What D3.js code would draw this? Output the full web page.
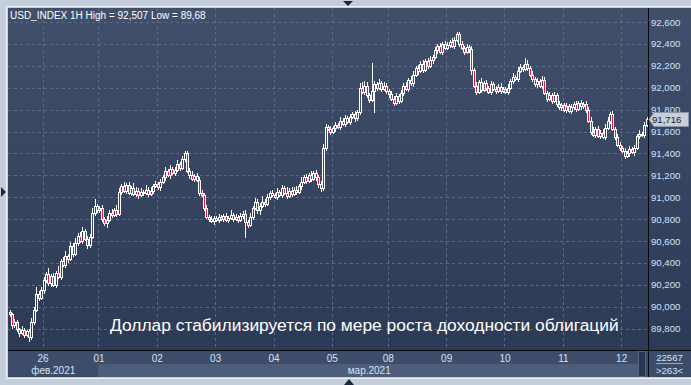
<!DOCTYPE html>
<html><head><meta charset="utf-8">
<script src="https://cdn.jsdelivr.net/npm/d3@7"></script>
<style>html,body{margin:0;padding:0;background:#c3cddb;overflow:hidden}svg{display:block}</style>
</head><body><svg id="c" width="691" height="385"></svg>
<script>
// ---- data ----
const titleText = "USD_INDEX 1H High = 92,507 Low = 89,68";
const caption = "Доллар стабилизируется по мере роста доходности облигаций";
const dayLabels = ["26","01","02","03","04","05","08","09","10","11","12"];
const dayCandles = [14,23,24,24,24,24,23,24,24,24,24,11]; // first entry = 25 Feb (partial)
const monthLabels = ["фев.2021","мар.2021"];
const yTicks = [89.8,90.0,90.2,90.4,90.6,90.8,91.0,91.2,91.4,91.6,91.8,92.0,92.2,92.4,92.6];
const lastPrice = 91.716;
const volumeText = "22567";
const barsText = ">263<";
const firstOpen = 89.95;
const closes = [
 89.93,89.83,89.86,89.80,89.76,89.79,89.74,89.78,89.72,89.86,89.97,90.12,90.08,90.15,
 90.24,90.30,90.22,90.28,90.20,90.31,90.27,90.42,90.38,90.46,90.44,90.55,90.48,90.58,90.65,90.60,90.69,90.62,90.56,90.64,90.86,90.92,90.88,
 90.90,90.80,90.76,90.79,90.86,90.84,90.88,90.85,91.05,91.10,91.06,91.11,91.04,91.08,91.03,91.06,91.02,91.05,91.04,91.07,91.03,91.06,91.10,91.12,
 91.09,91.14,91.18,91.24,91.20,91.26,91.22,91.25,91.30,91.27,91.35,91.40,91.24,91.20,91.17,91.19,91.16,91.04,91.02,90.90,90.82,90.80,90.78,90.81,
 90.79,90.82,90.80,90.83,90.79,90.81,90.84,90.80,90.82,90.79,90.83,90.85,90.77,90.75,90.82,90.90,90.96,90.88,90.92,90.96,90.94,91.00,91.04,91.02,
 91.00,91.05,91.02,91.08,91.04,91.01,91.06,91.03,91.07,91.05,91.10,91.14,91.18,91.15,91.20,91.17,91.22,91.18,91.12,91.08,91.45,91.64,91.62,91.60,
 91.63,91.66,91.64,91.70,91.67,91.72,91.69,91.73,91.76,91.72,91.78,92.00,91.96,92.02,91.93,91.89,91.97,92.03,92.00,92.04,91.99,92.02,91.97,
 91.94,91.90,91.86,91.92,91.88,91.95,92.02,91.99,92.07,92.04,92.12,92.18,92.15,92.22,92.16,92.24,92.20,92.25,92.28,92.34,92.38,92.33,92.40,92.36,
 92.39,92.42,92.38,92.44,92.49,92.40,92.36,92.33,92.37,92.35,92.16,92.02,91.96,92.05,91.98,92.04,92.00,91.96,92.03,91.99,91.97,92.01,91.97,91.99,
 91.96,92.00,92.06,92.10,92.08,92.15,92.19,92.17,92.22,92.18,92.12,92.08,92.03,92.06,92.02,92.07,91.95,91.90,91.93,91.88,91.93,91.85,91.82,91.84,
 91.80,91.83,91.79,91.82,91.85,91.81,91.86,91.83,91.85,91.80,91.70,91.60,91.57,91.62,91.56,91.59,91.55,91.63,91.70,91.76,91.62,91.55,91.48,91.45,
 91.42,91.38,91.40,91.44,91.41,91.45,91.56,91.58,91.57,91.66,91.716
];
// wick lengths beyond the body, in hundredths of a point
const wickUp = [
 2,1,3,2,1,3,2,1,2,4,3,6,2,3,
 3,2,5,2,3,2,6,2,3,5,2,4,3,5,2,3,4,2,3,2,4,6,2,
 2,3,2,4,2,3,2,5,3,2,4,2,3,2,5,3,2,3,2,4,2,3,2,3,
 2,3,2,4,2,3,2,3,4,2,3,2,2,3,4,2,3,2,3,2,3,2,3,2,
 2,3,2,2,3,2,4,2,3,2,3,2,3,2,4,2,3,2,3,5,2,3,2,3,
 2,3,2,3,2,5,2,3,2,3,2,4,2,3,2,4,2,3,2,3,4,3,2,3,
 2,3,2,3,2,3,2,3,2,3,2,4,5,4,3,2,26,3,2,4,2,3,2,
 2,3,2,3,2,3,2,3,2,4,3,2,3,2,3,2,3,4,2,3,2,3,2,3,
 3,2,3,2,1.7,2,3,2,3,2,3,2,3,2,4,2,3,2,3,2,3,2,3,2,
 2,3,2,3,2,4,3,2,5,3,2,3,2,3,2,4,3,2,3,2,3,2,3,2,
 2,3,2,3,2,3,2,3,2,3,2,3,4,2,3,2,3,4,3,2,3,2,3,2,
 2,3,2,3,2,3,2,3,2,3,2
];
const wickDn = [
 2,3,2,3,4,2,3,2,4,2,3,2,3,2,
 3,2,3,4,2,3,2,3,2,3,4,2,3,2,3,2,3,2,3,2,2,3,2,
 2,3,2,4,2,3,2,3,2,3,2,3,2,3,2,3,4,2,3,2,3,2,3,2,
 2,3,2,3,2,3,2,3,2,3,2,3,2,3,2,3,2,3,2,3,2,3,2,3,
 2,3,2,3,2,3,2,3,2,3,2,3,14,3,2,3,2,3,4,2,3,2,3,2,
 2,3,2,3,2,3,2,3,2,3,2,3,2,3,2,3,2,3,4,3,2,3,2,3,
 2,3,2,3,2,3,2,3,2,3,2,3,2,3,2,3,2,20,3,2,3,2,3,
 3,2,3,2,3,2,3,2,3,2,3,2,3,2,3,2,3,2,3,2,3,2,3,2,
 2,3,2,3,2,3,2,3,2,3,4,2,3,2,3,2,3,2,3,2,3,2,3,2,
 2,3,2,3,2,3,2,3,2,3,2,3,2,3,2,3,2,3,2,3,2,3,2,3,
 2,3,2,3,2,3,2,3,2,3,2,3,2,3,2,3,2,3,2,3,2,3,2,3,
 2,3,2,3,2,3,2,3,2,3,2
];

// ---- build ----
const candles = closes.map((c,i)=>{
  const o = i ? closes[i-1] : firstOpen;
  return {i, o, c, h: Math.max(o,c)+wickUp[i]/100, l: Math.min(o,c)-wickDn[i]/100};
});
const dayStart = []; {let s=0; dayCandles.forEach(n=>{dayStart.push(s); s+=n;});}

const svg = d3.select("#c");
const W=691,H=385;
const PL=8, PT=8, PR=648, PB=350, BB=377;
const FONT = "'Liberation Sans', Arial, sans-serif";

const defs = svg.append("defs");
const g1 = defs.append("linearGradient").attr("id","bg").attr("x1",0).attr("y1",0).attr("x2",0).attr("y2",1);
g1.append("stop").attr("offset",0).attr("stop-color","#414f6b");
g1.append("stop").attr("offset",1).attr("stop-color","#2c3a56");

// frame
svg.append("rect").attr("x",0).attr("y",0).attr("width",W).attr("height",H).attr("fill","#c3cddb");
svg.append("rect").attr("x",PL-1.5).attr("y",PT-1.5).attr("width",W-PL+3).attr("height",BB-PT+3)
  .attr("fill","none").attr("stroke","#eef2f7").attr("stroke-width",1);
svg.append("rect").attr("x",PL).attr("y",PT).attr("width",W-PL).attr("height",PB-PT).attr("fill","url(#bg)");
// bottom axis band
svg.append("rect").attr("x",PL).attr("y",PB).attr("width",W-PL).attr("height",BB-PB).attr("fill","#3d4c68");

const x = d3.scaleLinear().domain([0, closes.length-1]).range([9.5, 646.5]);
const y = d3.scaleLinear().domain([89.8, 92.6]).range([328.6, 22]);

// month band highlight
const marStartX = Math.round(x(dayStart[2]) - 1);
svg.append("rect").attr("x",marStartX).attr("y",364).attr("width",640-marStartX).attr("height",BB-364).attr("fill","#4d5d7a");
svg.append("rect").attr("x",638.5).attr("y",351.5).attr("width",7).attr("height",25).attr("fill","#2b3651").attr("stroke","#55627c");

// grid
const grid = svg.append("g").attr("stroke","#5a6a8a").attr("stroke-dasharray","3,3").attr("stroke-width",1).attr("shape-rendering","crispEdges");
yTicks.forEach(t=>{
  const yy = Math.round(y(t))+0.5;
  grid.append("line").attr("x1",PL).attr("x2",PR).attr("y1",yy).attr("y2",yy);
});
dayStart.slice(1).forEach(s=>{
  const xx = Math.round(x(s)-1)+0.5;
  grid.append("line").attr("x1",xx).attr("x2",xx).attr("y1",PT).attr("y2",PB);
});

// candles
const cg = svg.append("g").attr("shape-rendering","crispEdges");
candles.forEach(d=>{
  const cx = Math.round(x(d.i));
  const top = Math.round(y(Math.max(d.o,d.c)));
  const bot = Math.round(y(Math.min(d.o,d.c)));
  const hy = Math.round(y(d.h)), ly = Math.round(y(d.l));
  if (hy < top) cg.append("line").attr("x1",cx+0.5).attr("x2",cx+0.5).attr("y1",hy).attr("y2",top).attr("stroke","#fff");
  if (ly > bot) cg.append("line").attr("x1",cx+0.5).attr("x2",cx+0.5).attr("y1",bot).attr("y2",ly).attr("stroke","#fff");
  const down = d.c < d.o;
  cg.append("rect").attr("x",cx-0.5).attr("y",top+0.5).attr("width",2).attr("height",Math.max(bot-top,0))
    .attr("fill", down ? "#e8143c" : "none").attr("stroke","#fff").attr("stroke-width",1);
});

// axes lines
svg.append("line").attr("x1",PR+0.5).attr("x2",PR+0.5).attr("y1",PT).attr("y2",BB).attr("stroke","#05080f");
svg.append("line").attr("x1",PL).attr("x2",W).attr("y1",PB+0.5).attr("y2",PB+0.5).attr("stroke","#05080f");

// y axis
const fmt = v => d3.format(".3f")(v).replace(".",",");
const yAxis = d3.axisRight(y).tickValues(yTicks).tickFormat(fmt).tickSize(0).tickPadding(3);
const ya = svg.append("g").attr("transform",`translate(${PR},0)`).call(yAxis);
ya.select(".domain").remove();
ya.selectAll("text").attr("fill","#d2e2f6").attr("font-family",FONT).attr("font-size","9.6px");

// x axis (day labels)
const xAxis = d3.axisBottom(x).tickValues(dayStart.slice(1)).tickFormat((d,k)=>dayLabels[k]).tickSize(0).tickPadding(0);
const xa = svg.append("g").attr("transform",`translate(-1,${PB})`).call(xAxis);
xa.select(".domain").remove();
xa.selectAll("text").attr("fill","#d2e2f6").attr("font-family",FONT).attr("font-size","10px").attr("dy",null).attr("y",11.5);

// month labels
const febMid = (PL + x(dayStart[2])-1)/2, marMid = (x(dayStart[2])-1 + 640)/2;
[[febMid,monthLabels[0]],[marMid,monthLabels[1]]].forEach(([mx,t])=>{
  svg.append("text").attr("x",mx).attr("y",374).attr("text-anchor","middle").attr("fill","#d2e2f6")
    .attr("font-family",FONT).attr("font-size","10px").text(t);
});

// right-bottom info
svg.append("text").attr("x",669.5).attr("y",361).attr("text-anchor","middle").attr("fill","#d2e2f6").attr("font-family",FONT).attr("font-size","9.6px").text(volumeText);
svg.append("line").attr("x1",656).attr("x2",683).attr("y1",363.5).attr("y2",363.5).attr("stroke","#9aa8c0");
svg.append("text").attr("x",669.5).attr("y",374).attr("text-anchor","middle").attr("fill","#d2e2f6").attr("font-family",FONT).attr("font-size","9.6px").text(barsText);

// last price tag
const ly0 = Math.round(y(lastPrice));
svg.append("path").attr("d",`M${PR+1},${ly0+0.5} L${PR+6},${ly0-6.5} L688.5,${ly0-6.5} L688.5,${ly0+7.5} L${PR+6},${ly0+7.5} Z`)
  .attr("fill","#c9ced7").attr("stroke","#8c96a8");
svg.append("text").attr("x",652).attr("y",ly0+4).attr("fill","#17203a").attr("font-family",FONT).attr("font-size","9.6px").text(fmt(lastPrice));

// title & caption
svg.append("text").attr("x",10).attr("y",19).attr("fill","#ffffff").attr("font-family",FONT).attr("font-size","10px").text(titleText);
svg.append("text").attr("x",110).attr("y",331).attr("fill","#ffffff").attr("font-family",FONT).attr("font-size","17.4px").text(caption);

// scroll markers
svg.append("path").attr("d","M343,1 L353,1 L348,6 Z").attr("fill","#1b2742");
svg.append("path").attr("d","M1,187 L1,197 L6,192 Z").attr("fill","#1b2742");
svg.append("path").attr("d","M344,385 L354,385 L349,379 Z").attr("fill","#1b2742");
</script></body></html>
